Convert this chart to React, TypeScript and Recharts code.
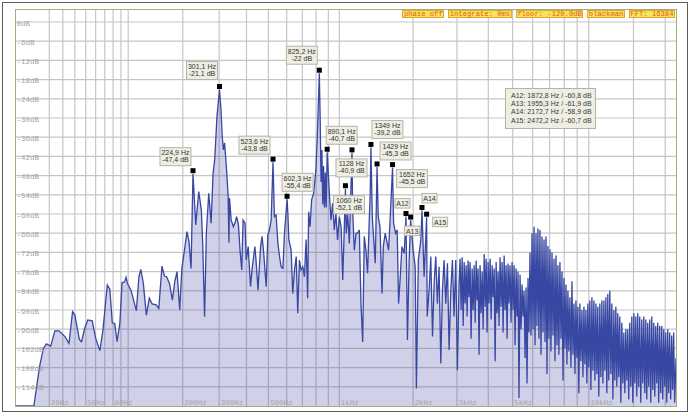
import React from "react";
import { AreaChart, Area, XAxis, YAxis, CartesianGrid, ReferenceDot, ReferenceLine } from "recharts";

// analyser frequency axis is log(f + 57), so 0 Hz sits at the left edge
const toX = (hz: number) => Math.log10(hz + 57);

// [Hz, dB]
const lowBand: [number, number][] = [
  [0, -120], [10, -120], [13.5, -107.7], [16, -102], [18, -100.6], [21, -101.3], [24, -96.5], [27, -96.5],
  [31.7, -98.3], [35, -100.4], [38, -90.5], [40, -91.6], [44, -99.2], [46, -99.9], [49, -95.7], [52, -93.1],
  [56.5, -93.4], [60, -98.8], [64.6, -102.7], [68, -96.3], [73, -82.2], [76, -83.5], [79, -94], [82, -94.2],
  [85, -99.9], [88.6, -94.2], [91.5, -81.5], [95, -81.2], [97, -79.8], [99, -81.7], [104, -83.8], [112, -90.2],
  [116, -79.6], [119, -77.3], [123, -81.7], [128, -91.6], [133, -86.3], [138, -88.1], [145, -88.4], [150, -89.5],
  [156, -76.3], [161, -79.4], [165, -79.6], [171, -81.7], [177, -86.9], [182, -81.2], [187, -78], [193, -90],
  [198, -77], [204, -71.3], [210, -65.5], [215, -68.7], [220, -77], [224.9, -47.4], [232, -63.4], [240, -53],
  [247, -58.8], [251, -70.2], [256, -92.1], [261, -66], [268, -53.5], [275, -62.9], [281, -47.3], [286, -43],
  [293, -29.6], [301.1, -21.1],
];

const midBand: [number, number][] = [
  [306, -27.5], [310, -35.8], [314, -40], [318, -37.8], [324, -45.2], [330, -54], [333, -69], [335, -55],
  [341, -61.9], [349, -64], [356, -62.4], [361, -60.8], [368, -63.4], [374, -71.3], [381, -77.5], [386, -61.9],
  [394, -62.9], [399, -74.4], [407, -70.2], [417, -82.7], [424, -77], [436, -70.2], [441, -74.4], [450, -83.8],
  [462, -70.2], [469, -67], [477, -72.3], [489, -82.7], [497, -66.6], [505, -65], [514, -61.9], [523.6, -43.8],
  [531, -60.8], [540, -60.3], [550, -69.2], [559, -73.3], [568, -76.5], [578, -77], [587, -66], [602.3, -55.4],
  [607, -59.8], [613, -68], [627, -71.3], [637, -84.8], [648, -77.5], [659, -73.3], [669, -91], [680, -74.4],
  [691, -77.5], [703, -76.5], [714, -79.6], [726, -68], [737, -86.3], [744, -59.3], [754, -64], [766, -55.6],
  [781, -53.5], [798, -46.3], [810, -35], [825.2, -16], [832, -30], [839, -50], [846, -40], [853, -57],
  [860, -45], [867, -58], [875, -47], [882, -58], [890.1, -40.7], [909, -53.5], [923, -61.9], [938, -56.7],
  [953, -65], [968, -59.8], [983, -68.1], [1000, -60.8], [1017, -64], [1033, -80.6], [1060, -52.1], [1068, -66],
  [1083, -59.8], [1100, -69.2], [1128, -40.9], [1135, -58.8], [1153, -71.3], [1172, -66], [1190, -66], [1209, -65],
  [1228, -88], [1248, -100], [1267, -67], [1287, -71.3], [1307, -78.5], [1328, -61.9], [1340, -53.5], [1349, -39.2],
  [1366, -60.8], [1405, -75.4], [1429, -45.3], [1445, -60.8], [1469, -64], [1497, -84.8], [1515, -70.2], [1543, -66],
  [1562, -68.1], [1592, -71.3], [1617, -60.8], [1652, -45.5], [1668, -62.9], [1700, -66], [1725, -65], [1748, -88],
  [1775, -79.6], [1803, -70.2], [1842, -72.3], [1872.8, -60.8], [1898, -99.4], [1929, -74.4], [1955.3, -61.9], [2002, -71.3],
  [2040, -76.5], [2063, -114.5], [2100, -74.4], [2150, -68.1], [2172.7, -58.9], [2216, -79.6], [2268, -61], [2280, -92],
  [2321, -83.8], [2357, -73.3], [2395, -98.3], [2431, -81.7], [2468, -73.3], [2506, -88],
];

const highBand: [number, number][] = [
  [2545, -76.5], [2585, -106.7], [2625, -83.8], [2665, -74.4], [2707, -88], [2749, -75.4], [2791, -102.5], [2835, -83.8],
  [2878, -74.4], [2922, -92], [2968, -74.4], [3013, -108.8], [3059, -81.7], [3088, -74], [3118, -90], [3147, -73.5],
  [3177, -95], [3206, -75], [3235, -88], [3265, -76], [3294, -92], [3324, -74.5], [3353, -86], [3385, -75],
  [3418, -99], [3450, -77], [3482, -90], [3515, -76], [3547, -94], [3579, -74.5], [3611, -87], [3644, -77],
  [3676, -104], [3711, -76], [3747, -91], [3782, -78], [3817, -96], [3853, -72.5], [3888, -89], [3923, -74],
  [3958, -97], [3994, -75], [4029, -88], [4068, -74], [4106, -93], [4145, -76], [4183, -86], [4222, -77],
  [4260, -106], [4299, -75], [4337, -91], [4376, -78], [4414, -95], [4456, -73.5], [4498, -89], [4540, -75],
  [4582, -97], [4625, -73], [4667, -90], [4709, -76], [4751, -99], [4793, -75.5], [4835, -88], [4881, -76],
  [4927, -94], [4974, -75], [5020, -90], [5066, -76], [5112, -101], [5158, -77], [5205, -92], [5251, -78],
  [5297, -117.5], [5348, -79], [5398, -96], [5449, -82], [5499, -92], [5550, -84], [5600, -105], [5651, -83],
  [5701, -113], [5752, -80], [5802, -97],
];

const airBand: [number, number][] = [
  [5857, -72], [5912, -98], [5967, -66], [6022, -96], [6077, -64], [6132, -101], [6187, -66], [6242, -95],
  [6297, -64.5], [6354, -99], [6414, -65], [6475, -104], [6535, -67], [6596, -97], [6656, -68], [6717, -100],
  [6777, -67], [6838, -110], [6898, -70], [6959, -99], [7025, -71], [7091, -103], [7157, -72], [7223, -98],
  [7289, -74], [7355, -106], [7421, -73], [7487, -101], [7553, -76], [7620, -104], [7692, -75], [7765, -99],
  [7837, -78], [7910, -112], [7982, -80], [8054, -102], [8127, -82], [8199, -107], [8272, -84], [8344, -103],
  [8423, -86], [8502, -108], [8581, -81], [8660, -104], [8740, -88], [8819, -110], [8898, -87], [8977, -105],
  [9056, -89], [9135, -116], [9222, -88], [9309, -106], [9395, -90], [9482, -111], [9569, -89], [9656, -107],
  [9743, -90], [9829, -113], [9916, -88], [10003, -108], [10098, -87], [10193, -115], [10287, -86], [10382, -109],
  [10477, -87], [10572, -112], [10667, -88], [10761, -110], [10856, -89], [10951, -117], [11055, -88], [11158, -111],
  [11262, -87], [11366, -113], [11470, -87], [11573, -109], [11677, -86], [11781, -116], [11884, -85], [11988, -112],
  [12102, -84], [12216, -110], [12329, -88], [12443, -118], [12557, -90], [12671, -112], [12785, -89], [12898, -114],
  [13012, -91], [13126, -111], [13250, -92], [13374, -119], [13499, -94], [13623, -113], [13747, -97], [13871, -116],
  [13995, -96], [14120, -112], [14244, -96], [14368, -118], [14504, -94], [14640, -114], [14775, -92], [14911, -119],
  [15047, -91], [15183, -113], [15319, -92], [15454, -117], [15590, -91], [15726, -114], [15875, -92], [16024, -119],
  [16174, -93], [16323, -113], [16472, -92], [16621, -116], [16770, -93], [16920, -118], [17069, -94], [17218, -114],
  [17381, -93], [17544, -119], [17707, -92], [17870, -115], [18033, -94], [18196, -117], [18358, -95], [18521, -113],
  [18684, -94], [18847, -119], [19026, -95], [19204, -116], [19383, -95], [19561, -118], [19740, -96], [19918, -114],
  [20097, -97], [20275, -119], [20454, -96], [20632, -116], [20824, -97], [21016, -118], [21208, -98], [21400, -115],
  [21592, -97], [21783, -119], [22050, -105],
];

const gridHz = [20, 30, 40, 50, 60, 70, 80, 90, 100, 200, 300, 400, 500, 600, 700, 800, 900,
  1000, 2000, 3000, 4000, 5000, 6000, 7000, 8000, 9000, 10000, 15000, 20000];
const labelHz = [20, 50, 80, 200, 300, 500, 1000, 2000, 3000, 5000, 10000];
const dbTicks = [0, -6, -12, -18, -24, -30, -36, -42, -48, -54, -60, -66, -72, -78, -84, -90, -96, -102, -108, -114];

// peak markers: where they sit on the trace, and what their labels say
const peakHz = [224.9, 301.1, 523.6, 602.3, 825.2, 890.1, 1060, 1128, 1349, 1429, 1652, 1872.8, 1955.3, 2172.7, 2268];
const peakDb = [-47.4, -21.1, -43.8, -55.4, -16, -40.7, -52.1, -40.9, -39.2, -45.3, -45.5, -60.8, -61.9, -58.9, -61];
const peakText = [
  ["224,9 Hz", "-47,4 dB"], ["301,1 Hz", "-21,1 dB"], ["523,6 Hz", "-43,8 dB"], ["602,3 Hz", "-55,4 dB"],
  ["825,2 Hz", "-22 dB"], ["890,1 Hz", "-40,7 dB"], ["1060 Hz", "-52,1 dB"], ["1128 Hz", "-40,9 dB"],
  ["1349 Hz", "-39,2 dB"], ["1429 Hz", "-45,3 dB"], ["1652 Hz", "-45,5 dB"], ["A12"], ["A13"], ["A14"], ["A15"],
];
const legendLines = [
  "A12: 1872,8 Hz / -60,8 dB",
  "A13: 1955,3 Hz / -61,9 dB",
  "A14: 2172,7 Hz / -58,9 dB",
  "A15: 2472,2 Hz / -60,7 dB",
];
const statusItems = ["phase off", "integrate: 0ms", "floor: -120.0dB", "blackman", "FFT: 16384"];

// box top-left relative to each marker
const labelOffset = [
  [-33, -23], [-33, -25], [-34, -23], [-5, -23], [-33, -24], [-1, -23], [-12, 10], [-16, 9],
  [1, -24], [3, -22], [4, 5], [-11, -15], [-6, 9], [0, -14], [6, 3],
];

const spectrum = [...lowBand, ...midBand, ...highBand, ...airBand].map(([hz, db]) => ({ x: toX(hz), db }));

const axisFont = "'Liberation Mono', monospace";
const labelFont = "'Liberation Sans', Arial, sans-serif";
const gridColor = "#c6c6c6";

const hzLabel = (hz: number) => (hz >= 1000 ? `${hz / 1000}kHz` : `${hz}Hz`);

function PeakMark({ cx, cy, i }: { cx: number; cy: number; i: number }) {
  const mx = cx;
  const my = cy - 3;
  const lines = peakText[i];
  const [dx, dy] = labelOffset[i];
  const w = lines.length > 1 ? 31 : 15;
  const h = lines.length > 1 ? 18 : 9.5;
  const bx = mx + dx;
  const by = my + dy;
  return (
    <g>
      <rect x={bx} y={by} width={w} height={h} fill="#eeeee3" stroke="#b4b4a6" strokeWidth={1} />
      {lines.map((t, k) => (
        <text key={k} x={bx + w / 2} y={by + 7.5 + k * 6.9} fontSize={7} fontFamily={labelFont} fill="#333" textAnchor="middle">
          {t}
        </text>
      ))}
      <rect x={mx - 2.5} y={my - 2.5} width={5} height={5} fill="#000" />
    </g>
  );
}

export default function App() {
  return (
    <div style={{ position: "absolute", left: 0, top: 0, width: 690, height: 415, background: "#fff", overflow: "hidden" }}>
      <div style={{ position: "absolute", left: 2, top: 2, width: 684, height: 408, border: "1px solid #5c5c5c" }} />
      <div style={{ position: "absolute", left: 0, top: 0 }}>
        <AreaChart width={690} height={415} data={spectrum} margin={{ top: 10, right: 14, bottom: 9, left: 16 }}>
          <CartesianGrid stroke={gridColor} strokeWidth={1.2} vertical={false} horizontalValues={dbTicks} />
          {gridHz.map((hz) => (
            <ReferenceLine key={`g${hz}`} x={toX(hz)} stroke={gridColor} strokeWidth={1.2} zIndex={-50} />
          ))}
          <XAxis
            type="number"
            dataKey="x"
            scale="linear"
            domain={[toX(0), toX(22050)]}
            allowDataOverflow
            ticks={gridHz.map(toX)}
            interval={0}
            hide
          />
          <YAxis type="number" domain={[-120, 3.75]} allowDataOverflow ticks={dbTicks} interval={0} hide />
          <Area
            type="linear"
            dataKey="db"
            baseValue="dataMin"
            stroke="#3747a2"
            strokeWidth={1.3}
            fill="#3c3ca2"
            fillOpacity={0.24}
            dot={false}
            activeDot={false}
            isAnimationActive={false}
          />
          {dbTicks.map((db) => (
            <ReferenceDot
              key={`db${db}`}
              x={toX(0)}
              y={db}
              r={1}
              ifOverflow="visible"
              shape={(p: any) => (
                <text x={p.cx + 0.5} y={p.cy + 3.5} fontSize={7.5} fontFamily={axisFont} fill="#a4a4a4">
                  {`${db}dB`}
                </text>
              )}
            />
          ))}
          {labelHz.map((hz) => (
            <ReferenceDot
              key={`hz${hz}`}
              x={toX(hz)}
              y={-120}
              r={1}
              ifOverflow="visible"
              shape={(p: any) => (
                <text x={p.cx + 1.5} y={p.cy - 1} fontSize={7.5} fontFamily={axisFont} fill="#a4a4a4">
                  {hzLabel(hz)}
                </text>
              )}
            />
          ))}
          {peakHz.map((hz, i) => (
            <ReferenceDot
              key={i}
              x={toX(hz)}
              y={peakDb[i]}
              r={3}
              ifOverflow="visible"
              shape={(p: any) => <PeakMark cx={p.cx} cy={p.cy} i={i} />}
            />
          ))}
        </AreaChart>
      </div>
      <div style={{ position: "absolute", left: 15, top: 9, width: 662, height: 398, boxSizing: "border-box", border: "1.5px solid #a2b17a", pointerEvents: "none" }} />
      <div style={{ position: "absolute", right: 15, top: 10, display: "flex", gap: 4 }}>
        {statusItems.map((s) => (
          <div
            key={s}
            style={{
              fontFamily: axisFont,
              fontSize: 7.2,
              lineHeight: "7px",
              height: 8,
              padding: "0 0.5px",
              background: "#f6e35e",
              border: "1px solid #eea22e",
              color: "#d8621c",
              whiteSpace: "pre",
              boxSizing: "border-box",
            }}
          >
            {s}
          </div>
        ))}
      </div>
      <div
        style={{
          position: "absolute",
          left: 505,
          top: 88,
          width: 91,
          boxSizing: "border-box",
          padding: "3px 0 3px 5px",
          background: "#eeeee3",
          border: "1px solid #b4b4a6",
          fontFamily: labelFont,
          fontSize: 7,
          lineHeight: "8.2px",
          color: "#3a3a3a",
          whiteSpace: "pre",
        }}
      >
        {legendLines.map((l) => (
          <div key={l}>{l}</div>
        ))}
      </div>
    </div>
  );
}
